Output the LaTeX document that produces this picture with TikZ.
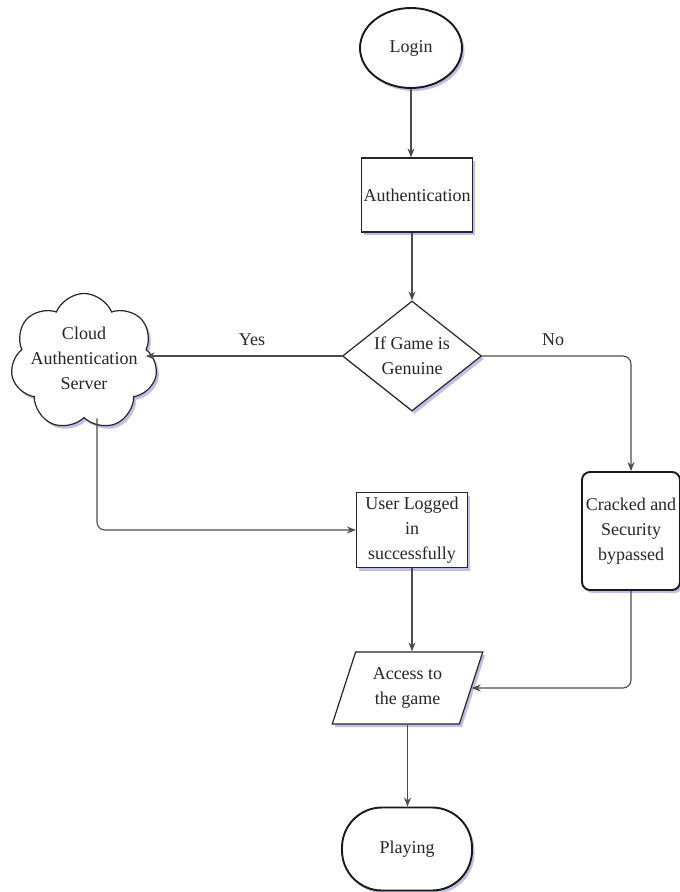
\documentclass[tikz,border=0pt]{standalone}
\usepackage{fontspec}
\setmainfont{Liberation Serif}
\usetikzlibrary{shapes.geometric,shapes.symbols,shadows,arrows.meta}
\begin{document}
\begin{tikzpicture}[x=1pt,y=-1pt,
  txt/.style={font=\fontsize{18}{25}\selectfont, align=center, text=black!85},
  shd/.style={drop shadow={shadow xshift=2.5pt,shadow yshift=-3pt,fill=blue!45!gray,opacity=0.35}},
  conn/.style={draw=black!70, line width=1.1pt, -{Stealth[length=9pt,width=7pt]}},
  boxnode/.style={txt, draw=black!85, fill=white, line width=1.2pt, inner sep=0pt, shd},
  thick border/.style={line width=1.9pt, draw=black!90},
]
\useasboundingbox[fill=white] (0,0) rectangle (680,892);

\node[boxnode, ellipse, thick border, minimum width=102pt, minimum height=80pt, drop shadow={opacity=0}] (login) at (411,48) {Login};
\node[boxnode, minimum width=111pt, minimum height=74pt] (auth) at (417,195) {Authentication};
\node[boxnode, diamond, minimum width=139pt, minimum height=110pt,
      label={[txt]center:If Game is\\Genuine}] (dia) at (412,356) {};
\node[boxnode, cloud, cloud puffs=7, cloud puff arc=135, cloud ignores aspect,
      minimum width=147pt, minimum height=137pt,
      label={[txt,yshift=4pt]center:Cloud\\Authentication\\Server}] (cloud) at (84,362) {};
\node[boxnode, minimum width=111pt, minimum height=75pt] (user) at (412,530) {User Logged\\in\\successfully};
\node[boxnode, thick border, rounded corners=8pt, minimum width=98pt, minimum height=118pt] (crack) at (631,531) {Cracked and\\Security\\bypassed};
\node[boxnode, trapezium, trapezium left angle=69, trapezium right angle=111, trapezium stretches=true,
      minimum width=151pt, minimum height=72pt] (access) at (407.5,688) {Access to\\the game};
\node[boxnode, thick border, rounded corners=40pt, minimum width=130pt, minimum height=83pt, drop shadow={opacity=0}] (play) at (407,849) {Playing};

\node[txt] (yes) at (252,340) {Yes};
\node[txt] (no) at (553,340) {No};

\coordinate (cloudin) at ([xshift=-10pt]cloud.east);
\coordinate (cloudout) at ([xshift=13pt]cloud.south);

\draw[conn] (login.south) -- (login.south |- auth.north);
\draw[conn] (auth.south -| dia.north) -- (dia.north);
\draw[conn] (dia.west) -- (cloudin |- dia.west);
\draw[conn, rounded corners=8pt] (dia.east) -| (crack.north);
\draw[conn, rounded corners=8pt] (cloudout) |- (user.west);
\draw[conn] (user.south) -- (user.south |- access.north);
\draw[conn, rounded corners=8pt] (crack.south) |- (access.east);
\draw[conn] (access.south) -- (access.south |- play.north);
\end{tikzpicture}
\end{document}
